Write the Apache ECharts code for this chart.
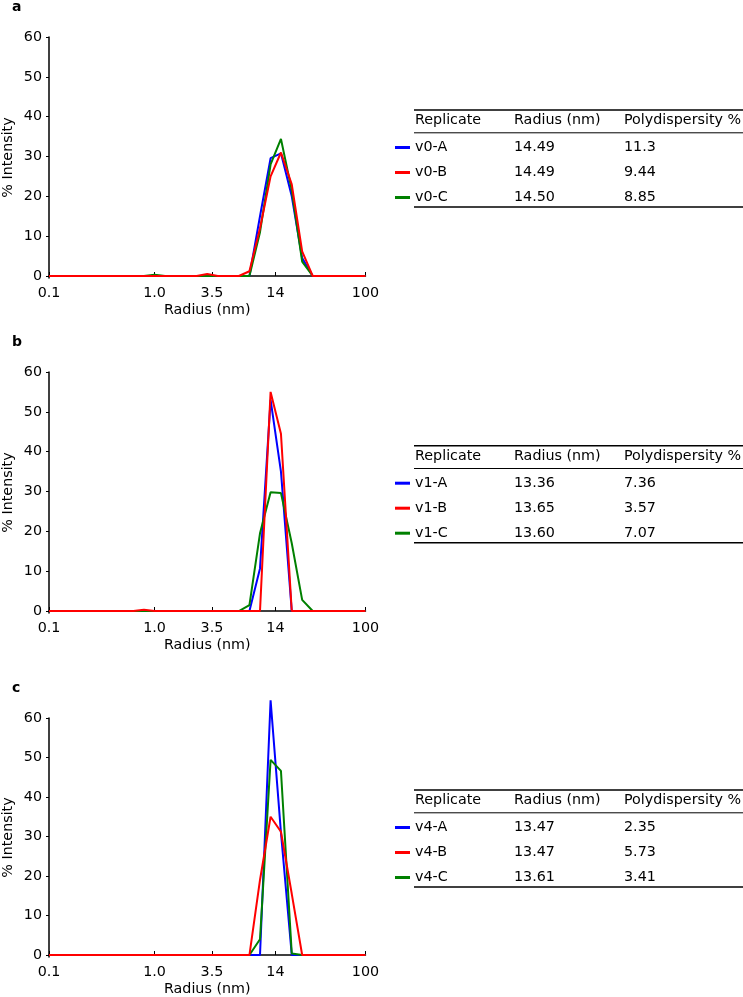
<!DOCTYPE html>
<html><head><meta charset="utf-8">
<script src="https://cdn.jsdelivr.net/npm/echarts@6/dist/echarts.min.js"></script>
<style>html,body{margin:0;padding:0;background:#fff}#c{width:743px;height:997px}</style>
</head><body><div id="c"></div>
<script>
// Radius grid (nm) on which the size distributions are sampled
const radius = [0.1, 0.126, 0.158, 0.2, 0.251, 0.316, 0.398, 0.501, 0.631, 0.794,
  1.0, 1.26, 1.58, 2.0, 2.51, 3.16, 3.98, 5.01, 6.31, 7.94,
  10.0, 12.6, 15.8, 20.0, 25.1, 31.6, 39.8, 50.1, 63.1, 79.4, 100];

// % Intensity values, panel a (v0)
const v0A = [0,0,0,0,0,0,0,0,0,0, 0,0,0,0,0,0,0,0,0,0, 15,29.6,30.8,20,4.5,0,0,0,0,0,0];
const v0B = [0,0,0,0,0,0,0,0,0,0, 0,0,0,0,0,0.5,0,0,0,1.2, 12,25,31,23,6.2,0,0,0,0,0,0];
const v0C = [0,0,0,0,0,0,0,0,0,0, 0.3,0,0,0,0,0,0,0,0,0, 11,28,34.4,21.5,3.6,0,0,0,0,0,0];
// panel b (v1)
const v1A = [0,0,0,0,0,0,0,0,0,0, 0,0,0,0,0,0,0,0,0,0, 10.7,53,35,0,0,0,0,0,0,0,0];
const v1B = [0,0,0,0,0,0,0,0,0,0.3, 0,0,0,0,0,0,0,0,0,0, 0,55,44.5,0,0,0,0,0,0,0,0];
const v1C = [0,0,0,0,0,0,0,0,0,0, 0,0,0,0,0,0,0,0,0,1.5, 19.5,29.8,29.6,17,2.8,0,0,0,0,0,0];
// panel c (v4)
const v4A = [0,0,0,0,0,0,0,0,0,0, 0,0,0,0,0,0,0,0,0,0, 0,64.5,31,0,0,0,0,0,0,0,0];
const v4B = [0,0,0,0,0,0,0,0,0,0, 0,0,0,0,0,0,0,0,0,0, 19,35,31.2,15.5,0,0,0,0,0,0,0];
const v4C = [0,0,0,0,0,0,0,0,0,0, 0,0,0,0,0,0,0,0,0,0, 4,49.4,46.6,0.4,0,0,0,0,0,0,0];

// Axis ticks
const yTicks = [0, 10, 20, 30, 40, 50, 60];
const xTickValues = [0.1, 1, 3.5, 14, 100];
const xTickLabels = ['0.1', '1.0', '3.5', '14', '100'];

// Panel labels and tables
const panelLabels = ['a', 'b', 'c'];
const tableHeader = ['Replicate', 'Radius (nm)', 'Polydispersity %'];
const replicatesA = ['v0-A', 'v0-B', 'v0-C'];
const radiiA = ['14.49', '14.49', '14.50'];
const pdiA = ['11.3', '9.44', '8.85'];
const replicatesB = ['v1-A', 'v1-B', 'v1-C'];
const radiiB = ['13.36', '13.65', '13.60'];
const pdiB = ['7.36', '3.57', '7.07'];
const replicatesC = ['v4-A', 'v4-B', 'v4-C'];
const radiiC = ['13.47', '13.47', '13.61'];
const pdiC = ['2.35', '5.73', '3.41'];

const seriesColors = ['#0000ff', '#ff0000', '#008000']; // A, B, C
const panelData = [[v0A, v0B, v0C], [v1A, v1B, v1C], [v4A, v4B, v4C]];
const tables = [[replicatesA, radiiA, pdiA], [replicatesB, radiiB, pdiB], [replicatesC, radiiC, pdiC]];

const FONT = 'DejaVu Sans';
const FS = 14.3;
const gridsLayout = [
  {left: 48.5, top: 37, width: 317, height: 241},
  {left: 48.5, top: 372, width: 317, height: 241},
  {left: 48.5, top: 718, width: 317, height: 239}
];
const tableTops = [110, 445.7, 790];
const labelY = [8, 343, 689];

function xLabel(v) {
  for (let i = 0; i < xTickValues.length; i++) {
    if (Math.abs(Math.log10(v) - Math.log10(xTickValues[i])) < 0.01) return xTickLabels[i];
  }
  return '';
}

const axisColor = '#000';
const grid = [], xAxis = [], yAxis = [], series = [], graphic = [];
gridsLayout.forEach((g, p) => {
  grid.push(Object.assign({containLabel: false}, g));
  xAxis.push({
    type: 'log', logBase: 10, gridIndex: p, min: 0.1, max: 100,
    axisLine: {lineStyle: {color: axisColor, width: 1.5}},
    axisTick: {show: true, inside: true, length: 4, customValues: xTickValues, lineStyle: {color: axisColor, width: 1}},
    axisLabel: {customValues: xTickValues, formatter: xLabel, margin: 8, color: '#000', fontFamily: FONT, fontSize: FS},
    minorTick: {show: false}, splitLine: {show: false}, minorSplitLine: {show: false},
    name: 'Radius (nm)', nameLocation: 'middle', nameGap: 25,
    nameTextStyle: {color: '#000', fontFamily: FONT, fontSize: FS}
  });
  yAxis.push({
    type: 'value', gridIndex: p, min: -0.5, max: 60,
    axisLine: {show: true, lineStyle: {color: axisColor, width: 1.5}},
    axisTick: {show: true, inside: false, length: 3, customValues: yTicks, lineStyle: {color: axisColor, width: 1}},
    axisLabel: {customValues: yTicks, margin: 7, color: '#000', fontFamily: FONT, fontSize: FS},
    splitLine: {show: false},
    name: '% Intensity', nameLocation: 'middle', nameGap: 34,
    nameTextStyle: {color: '#000', fontFamily: FONT, fontSize: FS}
  });
  // draw order: A (blue), C (green), B (red) on top
  [0, 2, 1].forEach(s => {
    series.push({
      type: 'line', xAxisIndex: p, yAxisIndex: p, clip: false,
      data: radius.map((r, i) => [r, panelData[p][s][i]]),
      showSymbol: false, symbol: 'none', animation: false,
      lineStyle: {color: seriesColors[s], width: 2},
      itemStyle: {color: seriesColors[s]}
    });
  });
  // panel label
  graphic.push({type: 'text', left: 12, top: labelY[p] - 8, style: {text: panelLabels[p], font: 'bold 14px "DejaVu Sans"', fill: '#000'}});
  // table
  const t0 = tableTops[p];
  const cols = [415, 514, 624];
  const ruleX1 = 414, ruleX2 = 743;
  graphic.push({type: 'line', shape: {x1: ruleX1, y1: t0, x2: ruleX2, y2: t0}, style: {stroke: '#000', lineWidth: 1.5}});
  graphic.push({type: 'line', shape: {x1: ruleX1, y1: t0 + 22.8, x2: ruleX2, y2: t0 + 22.8}, style: {stroke: '#000', lineWidth: 1}});
  graphic.push({type: 'line', shape: {x1: ruleX1, y1: t0 + 97, x2: ruleX2, y2: t0 + 97}, style: {stroke: '#000', lineWidth: 1.5}});
  tableHeader.forEach((h, c) => {
    graphic.push({type: 'text', x: cols[c], y: t0 + 10.7, style: {text: h, fontFamily: FONT, fontSize: FS, fill: '#000', verticalAlign: 'middle', align: 'left'}});
  });
  const tb = tables[p];
  for (let r = 0; r < 3; r++) {
    const yy = t0 + 37.5 + 25 * r;
    graphic.push({type: 'line', shape: {x1: 395, y1: yy, x2: 410, y2: yy}, style: {stroke: seriesColors[r], lineWidth: 3}});
    for (let c = 0; c < 3; c++) {
      graphic.push({type: 'text', x: cols[c], y: yy, style: {text: tb[c][r], fontFamily: FONT, fontSize: FS, fill: '#000', verticalAlign: 'middle', align: 'left'}});
    }
  }
});

const chart = echarts.init(document.getElementById('c'), null, {renderer: 'canvas'});
chart.setOption({animation: false, backgroundColor: '#fff', grid, xAxis, yAxis, series, graphic});
</script>
</body></html>
